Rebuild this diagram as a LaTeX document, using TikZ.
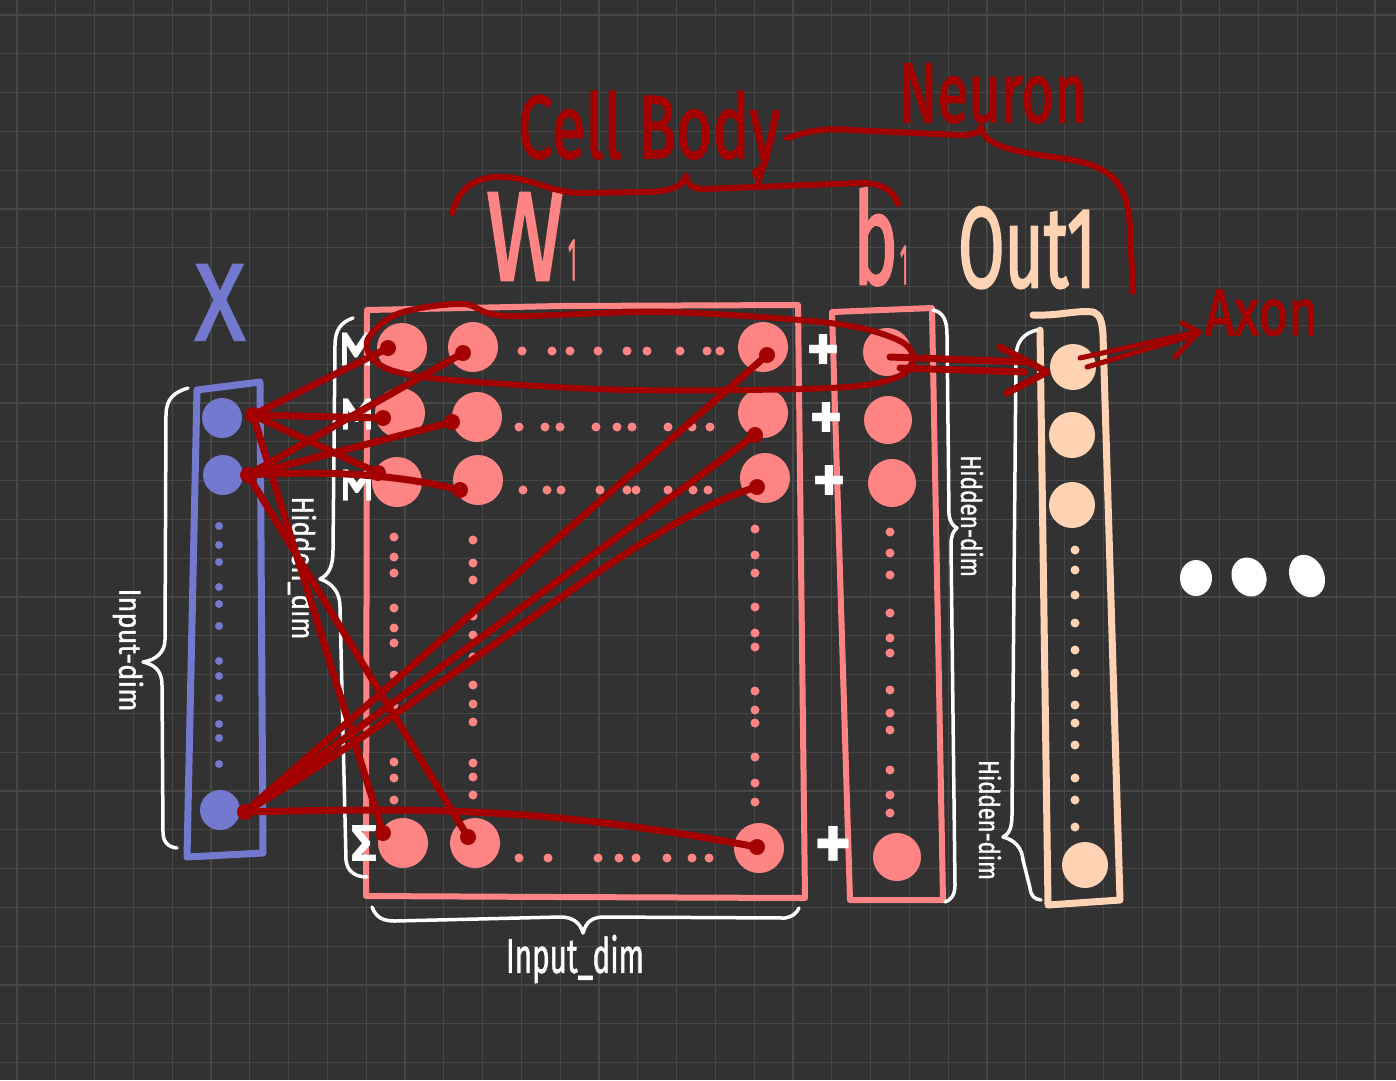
\documentclass[tikz,border=0pt]{standalone}
\usepackage{fontspec}
\setmainfont{Fira Sans}
\newfontfamily\medf{Fira Sans}[FakeBold=2.2]
\newfontfamily\semif{Fira Sans}[FakeBold=1.4]
\usepackage{graphicx}
\definecolor{bgc}{HTML}{323232}
\definecolor{gridc}{HTML}{474747}
\definecolor{xblue}{HTML}{7279CF}
\definecolor{wpink}{HTML}{FF8585}
\definecolor{opeach}{HTML}{FFD3B3}
\definecolor{dred}{HTML}{A30000}
\newcommand{\fitbox}[3]{\resizebox{#1}{#2}{#3}}
\begin{document}
\begin{tikzpicture}[x=1pt,y=-1pt,
  gridl/.style={draw=gridc,line width=1.2pt},
  rline/.style={draw=dred,line width=7pt,line cap=round,line join=round},
  rdot/.style={fill=dred},
  wbrace/.style={draw=white,line width=3.5pt,line cap=round,line join=round},
  bframe/.style={draw=xblue,line width=7pt,line cap=round,line join=round},
  pframe/.style={draw=wpink,line width=6pt,line cap=round,line join=round},
  oframe/.style={draw=opeach,line width=7pt,line cap=round,line join=round},
  bcirc/.style={circle,fill=xblue,minimum size=40pt,inner sep=0pt},
  wcirc/.style={circle,fill=wpink,minimum size=50pt,inner sep=0pt},
  bbcirc/.style={circle,fill=wpink,minimum size=48pt,inner sep=0pt},
  ocirc/.style={circle,fill=opeach,minimum size=46pt,inner sep=0pt},
  lbl/.style={inner sep=0pt,outer sep=0pt},
  sym/.style={inner sep=0pt,text=white,font=\bfseries}
]
\fill[bgc] (0,0) rectangle (1396,1080);
\useasboundingbox (0,0) rectangle (1396,1080);
\foreach \i in {0,...,35} {\draw[gridl] ({17+38.8*\i},0) -- ({17+38.8*\i},1080);}
\foreach \i in {0,...,27} {\draw[gridl] (0,{15+38.8*\i}) -- (1396,{15+38.8*\i});}

% ---------- X column ----------
\node[lbl,anchor=base west,text=xblue] (xlab) at (195,340) {\fitbox{50pt}{75pt}{\medf X}};
\draw[bframe] (197,390) -- (260,382) -- (263,853) -- (187,857) -- cycle;
\node[bcirc] (x1) at (222,418) {};
\node[bcirc] (x2) at (223,475) {};
\node[bcirc] (xn) at (220,810) {};
\foreach \y in {526,545,562,587,604,626,661,676,698,724,738,764} \fill[xblue] (219,\y) circle (4pt);
\draw[wbrace] (188,388) .. controls (175,392) and (166,398) .. (166,415) -- (165,640) .. controls (165,652) and (156,660) .. (143,662) .. controls (156,665) and (162,672) .. (162,685) -- (163,832) .. controls (163,842) and (168,847) .. (177,848);
\node[lbl,rotate=-90,text=white] (indimL) at (128,650) {\fitbox{123pt}{24pt}{\semif Input-dim}};

% ---------- W1 ----------
\node[lbl,anchor=base west,text=wpink] (wlab) at (486,280) {\fitbox{78pt}{87pt}{\medf W}\hspace{4pt}\fitbox{9pt}{40pt}{\medf 1}};
\draw[pframe] (367,310) -- (560,306) -- (798,305) -- (805,898) -- (560,897) -- (366,896) -- cycle;
\node[wcirc] (w11) at (402,348) {};
\node[wcirc] (w12) at (473,347) {};
\node[wcirc] (w1n) at (763,347) {};
\node[wcirc] (w21) at (400,413) {};
\node[wcirc] (w22) at (477,417) {};
\node[wcirc] (w2n) at (763,413) {};
\node[wcirc] (w31) at (397,482) {};
\node[wcirc] (w32) at (478,480) {};
\node[wcirc] (w3n) at (765,478) {};
\node[wcirc] (w41) at (403,843) {};
\node[wcirc] (w42) at (475,843) {};
\node[wcirc] (w4n) at (759,848) {};
\foreach \x in {522,552,570,598,627,647,680,707,720} \fill[wpink] (\x,351) circle (4.5pt);
\foreach \x in {519,545,560,596,617,632,668,692,710} \fill[wpink] (\x,427) circle (4.5pt);
\foreach \x in {523,547,561,600,627,636,668,693,708} \fill[wpink] (\x,490) circle (4.5pt);
\foreach \x in {519,548,598,619,636,667,692,709} \fill[wpink] (\x,858) circle (4.5pt);
\foreach \y in {537,557,573,608,628,643,675,705,762,778,800} \fill[wpink] (394,\y) circle (4.5pt);
\foreach \y in {540,563,580,616,635,657,685,704,722,763,777,795} \fill[wpink] (473,\y) circle (4.5pt);
\foreach \y in {529,555,573,607,633,647,691,710,723,757,783,802} \fill[wpink] (755,\y) circle (4.5pt);

% sigma signs
\node[sym,rotate=-90] (s1) at (356,349) {\fitbox{36pt}{28pt}{Σ}};
\node[sym,rotate=-90] (s2) at (357,414) {\fitbox{34pt}{28pt}{Σ}};
\node[sym,rotate=-90] (s3) at (357,485) {\fitbox{34pt}{28pt}{Σ}};
\node[sym] (s4) at (364,843) {\fitbox{26pt}{36pt}{Σ}};

% left brace of W1
\draw[wbrace] (353,318) .. controls (341,322) and (335,330) .. (335,345) -- (333,550) .. controls (333,568) and (328,575) .. (320,579) .. controls (332,583) and (340,592) .. (340,607) -- (346,860) .. controls (347,871) and (355,877) .. (367,877);
\node[lbl,rotate=-90,text=white] (hidL) at (302,568) {\fitbox{143pt}{24pt}{\semif Hidden\_dim}};

% bottom brace
\draw[wbrace] (372,907) .. controls (376,917) and (382,921) .. (395,921) -- (560,917) .. controls (572,917) and (580,922) .. (583,933) .. controls (586,922) and (592,917) .. (604,917) -- (785,918) .. controls (792,917) and (797,913) .. (799,908);
\node[lbl,text=white] (indimB) at (575,959) {\fitbox{138pt}{38pt}{\semif Input\_dim}};

% ---------- b1 ----------
\node[lbl,anchor=base west,text=wpink] (blab) at (853,284) {\fitbox{45pt}{96pt}{\medf b}\hspace{2pt}\fitbox{8pt}{38pt}{\medf 1}};
\draw[pframe] (832,312) -- (932,308) -- (943,900) -- (850,900) -- cycle;
\node[bbcirc] (b1) at (887,352) {};
\node[bbcirc] (b2) at (888,420) {};
\node[bbcirc] (b3) at (892,483) {};
\node[bbcirc] (bn) at (897,857) {};
\foreach \y in {532,553,575,613,638,653,690,713,730,770,795,813} \fill[wpink] (890,\y) circle (4.5pt);
\node[sym] (p1) at (823,353) {\fitbox{34pt}{38pt}{+}};
\node[sym] (p2) at (826,421) {\fitbox{34pt}{38pt}{+}};
\node[sym] (p3) at (829,484) {\fitbox{34pt}{38pt}{+}};
\node[sym] (p4) at (833,848) {\fitbox{38pt}{44pt}{+}};
\draw[wbrace] (933,310) .. controls (943,312) and (947,320) .. (947,335) -- (949,515) .. controls (950,522) and (953,526) .. (957,528) .. controls (953,531) and (951,536) .. (951,545) -- (955,885) .. controls (955,895) and (951,900) .. (945,902);
\node[lbl,rotate=-90,text=white] (hidB) at (972,516) {\fitbox{122pt}{22pt}{\semif Hidden-dim}};

% ---------- Out1 ----------
\node[lbl,anchor=base west,text=opeach] (olab) at (958,287) {\fitbox{138pt}{80pt}{\medf Out1}};
\draw[oframe] (1033,315) .. controls (1060,316) and (1075,310) .. (1093,312) .. controls (1100,315) and (1102,320) .. (1103,335) -- (1120,900) -- (1048,905) -- (1040,330);
\node[ocirc] (o1) at (1073,367) {};
\node[ocirc] (o2) at (1072,435) {};
\node[ocirc] (o3) at (1072,505) {};
\node[ocirc] (on) at (1085,865) {};
\foreach \y in {550,570,595,623,650,673,705,723,745,778,800,827} \fill[opeach] (1075,\y) circle (4.5pt);
\draw[wbrace] (1037,330) .. controls (1025,333) and (1017,340) .. (1016,355) -- (1012,815) .. controls (1012,828) and (1009,834) .. (1003,837) .. controls (1015,840) and (1022,848) .. (1023,860) -- (1030,888) .. controls (1031,896) and (1034,899) .. (1041,900);
\node[lbl,rotate=-90,text=white] (hidO) at (990,820) {\fitbox{120pt}{22pt}{\semif Hidden-dim}};

% ellipsis
\fill[white] (1196,578) ellipse [x radius=16pt,y radius=18pt];
\fill[white,rotate around={25:(1249,577)}] (1249,577) ellipse [x radius=17pt,y radius=20pt];
\fill[white,rotate around={25:(1307,576)}] (1307,576) ellipse [x radius=17pt,y radius=22pt];

% ---------- red connections ----------
\coordinate (e1) at (253,415);
\coordinate (e2) at (248,475);
\coordinate (en) at (245,812);
\coordinate (c11) at (388,348); \coordinate (c12) at (463,353); \coordinate (c1n) at (767,355);
\coordinate (c21) at (383,418); \coordinate (c22) at (452,422); \coordinate (c2n) at (755,435);
\coordinate (c31) at (378,473); \coordinate (c32) at (460,490); \coordinate (c3n) at (757,487);
\coordinate (c41) at (383,833); \coordinate (c42) at (468,837); \coordinate (c4n) at (757,847);
\draw[rline] (e1) -- (c11);
\draw[rline] (e1) -- (c21);
\draw[rline] (e1) -- (c31);
\draw[rline] (e1) -- (c41);
\draw[rline] (e2) -- (c12);
\draw[rline] (e2) -- (c22);
\draw[rline] (e2) .. controls (330,470) and (400,475) .. (c32);
\draw[rline] (e2) -- (c42);
\draw[rline] (en) -- (c1n);
\draw[rline] (en) -- (c2n);
\draw[rline] (en) .. controls (450,690) and (640,520) .. (c3n);
\draw[rline] (en) .. controls (420,808) and (540,806) .. (c4n);
\foreach \c in {e1,e2,en,c11,c12,c1n,c21,c22,c2n,c31,c32,c3n,c41,c42,c4n} \fill[dred] (\c) circle (8pt);

% loop around first row
\draw[rline,line width=6pt] plot[smooth cycle,tension=0.55] coordinates {(507,316) (663,312) (830,323) (898,340) (913,360) (895,378) (830,388) (630,390) (463,381) (397,372) (371,357) (369,337) (400,313) (463,304)};

% arrow to Out1
\coordinate (a1s) at (890,357); \coordinate (a1e) at (1027,362);
\coordinate (a2s) at (900,368); \coordinate (a2e) at (1025,372);
\coordinate (ah1) at (1000,347); \coordinate (ahp) at (1047,372); \coordinate (ah2) at (1007,393);
\draw[rline] (a1s) -- (a1e);
\draw[rline] (a2s) -- (a2e);
\draw[rline] (ah1) -- (ahp) -- (ah2);

% axon arrow
\coordinate (x1s) at (1080,358); \coordinate (x1e) at (1197,332);
\coordinate (x2s) at (1087,367); \coordinate (x2e) at (1187,337);
\coordinate (xh1) at (1182,323); \coordinate (xhp) at (1199,332); \coordinate (xh2) at (1175,357);
\draw[rline,line width=5pt] (x1s) -- (x1e);
\draw[rline,line width=5pt] (x2s) -- (x2e);
\draw[rline,line width=5pt] (xh1) -- (xhp) -- (xh2);
\node[lbl,anchor=base west,text=dred] (axon) at (1205,335) {\fitbox{113pt}{45pt}{\medf Axon}};

% ---------- red braces and titles ----------
\draw[rline,line width=6pt] (452,213) .. controls (460,185) and (478,177) .. (500,177) .. controls (530,177) and (548,192) .. (580,193) -- (640,192) .. controls (668,192) and (682,188) .. (686,176) .. controls (687,185) and (692,189) .. (705,189) -- (860,183) .. controls (882,183) and (893,190) .. (898,204);
\draw[rline,line width=6pt] (757,187) -- (773,133);
\draw[rline,line width=6pt] (787,138) .. controls (810,130) and (830,128) .. (850,130) -- (960,135) .. controls (974,135) and (980,132) .. (981,127) .. controls (983,140) and (995,150) .. (1060,158) .. controls (1110,165) and (1128,180) .. (1130,230) -- (1133,292);
\node[lbl,anchor=base west,text=dred] (cellbody) at (518,158) {\fitbox{262pt}{67pt}{\medf Cell Body}};
\node[lbl,anchor=base west,text=dred] (neuron) at (899,122) {\fitbox{188pt}{58pt}{\medf Neuron}};
\end{tikzpicture}
\end{document}
